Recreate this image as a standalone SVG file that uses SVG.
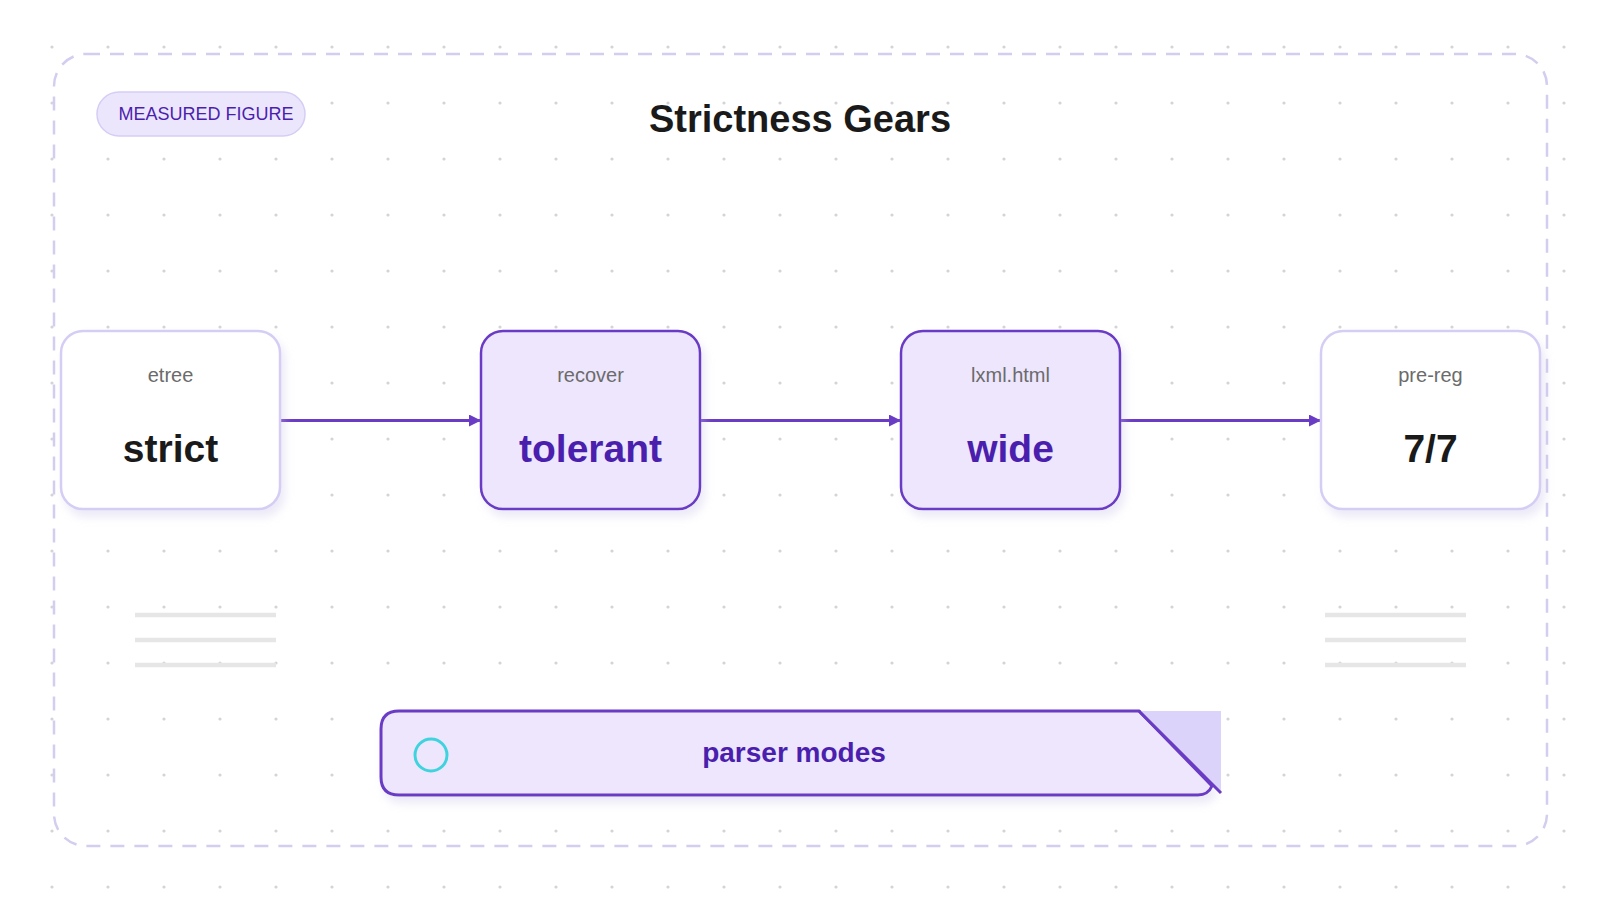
<svg xmlns="http://www.w3.org/2000/svg" width="1600" height="900" viewBox="0 0 1600 900">
  <defs>
    <pattern id="dots" x="24" y="19" width="56" height="56" patternUnits="userSpaceOnUse">
      <circle cx="28" cy="28" r="1.6" fill="#d4d4d8"/>
    </pattern>
    <filter id="shadow" x="-20%" y="-20%" width="140%" height="150%">
      <feDropShadow dx="4" dy="7" stdDeviation="4" flood-color="#c9c2e6" flood-opacity="0.35"/>
    </filter>
    <marker id="arrow" viewBox="0 0 12 12" refX="11" refY="6" markerWidth="12" markerHeight="12" markerUnits="userSpaceOnUse" orient="auto">
      <path d="M0,0 L12,6 L0,12 Z" fill="#6a3bc4"/>
    </marker>
    <style>
      .frame { fill: none; stroke: #d3cdef; stroke-width: 2.5; stroke-dasharray: 14 10; }
      .node-plain { fill: #ffffff; stroke: #d6cdf5; stroke-width: 2.5; }
      .node-hi { fill: #ede6fd; stroke: #6a3bc4; stroke-width: 2.5; }
      .label { font-family: "Liberation Sans", Arial, sans-serif; font-size: 20px; fill: #6b6b6b; text-anchor: middle; }
      .value { font-family: "Liberation Sans", Arial, sans-serif; font-size: 39px; font-weight: bold; text-anchor: middle; }
      .dark { fill: #1a1a1a; }
      .purple { fill: #4b1fae; }
      .conn { stroke: #6a3bc4; stroke-width: 3; fill: none; }
      .gline { stroke: #e6e6e6; stroke-width: 4.5; }
    </style>
  </defs>

  <rect x="0" y="0" width="1600" height="900" fill="#ffffff"/>
  <rect x="0" y="0" width="1600" height="900" fill="url(#dots)"/>

  <rect class="frame" x="54" y="54" width="1493" height="792" rx="32"/>

  <g id="badge">
    <rect x="97" y="92" width="208" height="44" rx="22" fill="#ece6fd" stroke="#d6cdf5" stroke-width="1.5"/>
    <text x="206" y="120" font-family="Liberation Sans, Arial, sans-serif" font-size="18" fill="#4b1fae" text-anchor="middle">MEASURED FIGURE</text>
  </g>

  <g id="title">
    <text x="800" y="132" font-family="Liberation Sans, Arial, sans-serif" font-size="38" font-weight="bold" fill="#1a1a1a" text-anchor="middle">Strictness Gears</text>
  </g>

  <g id="decor-lines">
    <line class="gline" x1="135" y1="615" x2="276" y2="615"/>
    <line class="gline" x1="135" y1="640" x2="276" y2="640"/>
    <line class="gline" x1="135" y1="665" x2="276" y2="665"/>
    <line class="gline" x1="1325" y1="615" x2="1466" y2="615"/>
    <line class="gline" x1="1325" y1="640" x2="1466" y2="640"/>
    <line class="gline" x1="1325" y1="665" x2="1466" y2="665"/>
  </g>

  <g id="connectors">
    <line class="conn" x1="281" y1="420.5" x2="480" y2="420.5" marker-end="url(#arrow)"/>
    <line class="conn" x1="701" y1="420.5" x2="900" y2="420.5" marker-end="url(#arrow)"/>
    <line class="conn" x1="1121" y1="420.5" x2="1320" y2="420.5" marker-end="url(#arrow)"/>
  </g>

  <g id="node-etree">
    <rect class="node-plain" x="61" y="331" width="219" height="178" rx="22" filter="url(#shadow)"/>
    <text class="label" x="170.5" y="382">etree</text>
    <text class="value dark" x="170.5" y="462">strict</text>
  </g>

  <g id="node-recover">
    <rect class="node-hi" x="481" y="331" width="219" height="178" rx="22" filter="url(#shadow)"/>
    <text class="label" x="590.5" y="382">recover</text>
    <text class="value purple" x="590.5" y="462">tolerant</text>
  </g>

  <g id="node-lxml">
    <rect class="node-hi" x="901" y="331" width="219" height="178" rx="22" filter="url(#shadow)"/>
    <text class="label" x="1010.5" y="382">lxml.html</text>
    <text class="value purple" x="1010.5" y="462">wide</text>
  </g>

  <g id="node-prereg">
    <rect class="node-plain" x="1321" y="331" width="219" height="178" rx="22" filter="url(#shadow)"/>
    <text class="label" x="1430.5" y="382">pre-reg</text>
    <text class="value dark" x="1430.5" y="462">7/7</text>
  </g>

  <g id="banner">
    <path d="M399,711 H1139 L1212,786 Q1208,795 1198,795 H399 Q381,795 381,777 V729 Q381,711 399,711 Z" fill="#ede6fd" stroke="#6a3bc4" stroke-width="3" filter="url(#shadow)"/>
    <polygon points="1139,711 1221,711 1221,792" fill="#dcd3fa"/>
    <line x1="1139" y1="711" x2="1221" y2="793" stroke="#6a3bc4" stroke-width="3"/>
    <circle cx="431" cy="755" r="16" fill="none" stroke="#3fd3de" stroke-width="3"/>
    <text x="794" y="762" font-family="Liberation Sans, Arial, sans-serif" font-size="28" font-weight="bold" fill="#4b1fae" text-anchor="middle">parser modes</text>
  </g>
</svg>
